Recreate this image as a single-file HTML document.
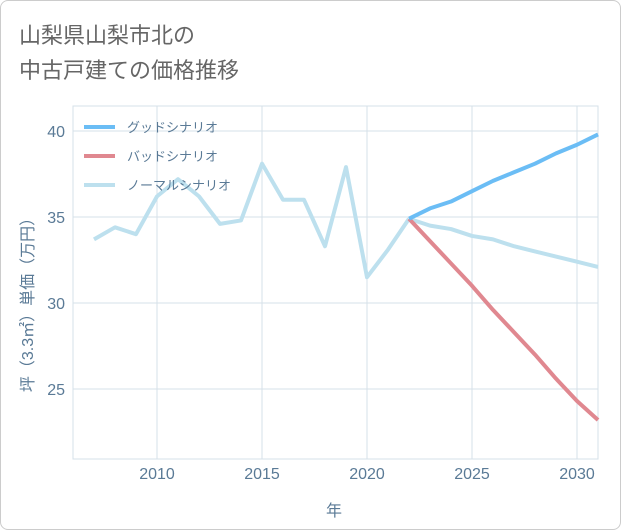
<!DOCTYPE html>
<html><head><meta charset="utf-8"><style>
body{margin:0;background:#fff;font-family:"Liberation Sans","Noto Sans CJK JP",sans-serif;}
#wrap{position:relative;width:619px;height:528px;border:1px solid #ccc;border-radius:8px;overflow:hidden;background:#fff}
</style></head><body>
<div id="wrap">
<svg id="c" width="621" height="530"></svg>
</div>
<script>
const years=[2007,2008,2009,2010,2011,2012,2013,2014,2015,2016,2017,2018,2019,2020,2021,2022];
const hist=[33.7,34.4,34.0,36.2,37.2,36.2,34.6,34.8,38.1,36.0,36.0,33.3,37.9,31.5,33.1,34.9];
const fYears=[2022,2023,2024,2025,2026,2027,2028,2029,2030,2031];
const good=[34.9,35.5,35.9,36.5,37.1,37.6,38.1,38.7,39.2,39.8];
const bad=[34.9,33.6,32.3,31.0,29.6,28.3,27.0,25.6,24.3,23.2];
const normal=[34.9,34.5,34.3,33.9,33.7,33.3,33.0,32.7,32.4,32.1];
const xTicks=[2010,2015,2020,2025,2030];
const yTicks=[25,30,35,40];
const NS="http://www.w3.org/2000/svg";
const svg=document.getElementById('c');
const L=72,R=597,T=105,B=458;
const x=v=>156+(v-2010)*21;
const y=v=>130+(40-v)*17.2;
function mk(t,a,p){const e=document.createElementNS(NS,t);for(const k in a)e.setAttribute(k,a[k]);(p||svg).appendChild(e);return e;}
function txt(s,a){const e=mk('text',a);e.textContent=s;return e;}
const t1=txt('山梨県山梨市北の',{x:18,y:42,'font-size':22,fill:'#666'});


const t2=txt('中古戸建ての価格推移',{x:18,y:77,'font-size':22,fill:'#666'});


mk('rect',{x:L,y:T,width:R-L,height:B-T,fill:'none',stroke:'#d6e0e8'});
xTicks.forEach(v=>{const g=mk('line',{x1:x(v),x2:x(v),y1:T,y2:B,stroke:'#d6e0e8'});

const l=txt(v,{x:x(v),y:478,'text-anchor':'middle','font-size':16,fill:'#5a7a96'});
});
yTicks.forEach(v=>{const g=mk('line',{x1:L,x2:R,y1:y(v),y2:y(v),stroke:'#d6e0e8'});

const l=txt(v,{x:64,y:y(v)+6,'text-anchor':'end','font-size':16,fill:'#5a7a96'});
});
const xt=txt('年',{x:333,y:515,'text-anchor':'middle','font-size':16,fill:'#5a7a96'});

const yt=txt('坪（3.3㎡）単価（万円）',{x:0,y:0,'text-anchor':'middle','font-size':16,fill:'#5a7a96',transform:'translate(32,300) rotate(-90)'});

function line(xs,vs,col,name){const p=mk('polyline',{points:xs.map((v,i)=>x(v)+','+y(vs[i])).join(' '),fill:'none',stroke:col,'stroke-width':4,'stroke-linejoin':'round'});
}
line(years,hist,'#bde0ee','history-line');
line(fYears,normal,'#bde0ee','normal-scenario-line');
line(fYears,bad,'#e08890','bad-scenario-line');
line(fYears,good,'#6bbdf5','good-scenario-line');
[['グッドシナリオ','#6bbdf5',126],['バッドシナリオ','#e08890',155],['ノーマルシナリオ','#bde0ee',184]].forEach(e=>{
const l=mk('line',{x1:83,x2:114,y1:e[2],y2:e[2],stroke:e[1],'stroke-width':4});

const t=txt(e[0],{x:126,y:e[2]+5,'font-size':13,fill:'#5a7a96'});
});
</script>
</body></html>
